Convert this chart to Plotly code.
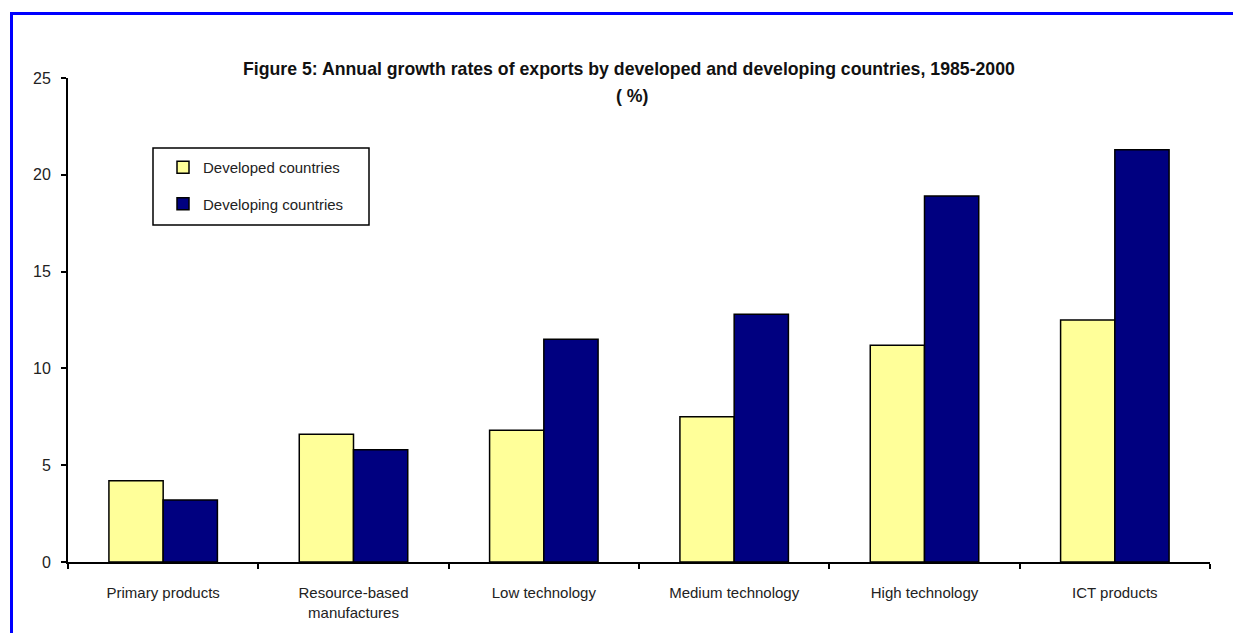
import plotly.graph_objects as go

# Export growth by product category, 1985-2000 (% per year)
categories = [
    "Primary products",
    "Resource-based<br>manufactures",
    "Low technology",
    "Medium technology",
    "High technology",
    "ICT products",
]
developed = [4.2, 6.6, 6.8, 7.5, 11.2, 12.5]
developing = [3.2, 5.8, 11.5, 12.8, 18.9, 21.3]
y_ticks = [0, 5, 10, 15, 20, 25]

FONT = "Liberation Sans Narrow, Arial Narrow, Liberation Sans, Arial, sans-serif"

W, H = 1233, 633
ML, MR, MT, MB = 68, 23, 78, 71
PW, PH = W - ML - MR, H - MT - MB


def px_x(px):
    return (px - ML) / PW


def px_y(py):
    return (H - MB - py) / PH


fig = go.Figure()
fig.add_trace(go.Bar(
    x=categories, y=developed, name="Developed countries",
    marker=dict(color="#FFFF99", line=dict(color="#000000", width=1.5)),
    legendgroup="a",
))
fig.add_trace(go.Bar(
    x=categories, y=developing, name="Developing countries",
    marker=dict(color="#000080", line=dict(color="#000000", width=1.5)),
    legendgroup="b",
))

fig.update_layout(
    width=W, height=H, autosize=False,
    margin=dict(l=ML, r=MR, t=MT, b=MB, pad=0),
    paper_bgcolor="white", plot_bgcolor="white",
    font=dict(family=FONT, size=15, color="#222222"),
    barmode="group", bargap=0.43, bargroupgap=0,
    showlegend=True,
    legend=dict(
        x=px_x(163), y=px_y(151), xanchor="left", yanchor="top",
        bgcolor="rgba(0,0,0,0)", borderwidth=0,
        font=dict(family=FONT, size=15, color="#222222"),
        traceorder="grouped", tracegroupgap=14,
        itemclick=False, itemdoubleclick=False,
    ),
    xaxis=dict(
        type="category", tickson="boundaries",
        showline=True, linecolor="#000000", linewidth=2,
        ticks="outside", ticklen=5, tickwidth=1.5, tickcolor="#000000",
        showgrid=False, zeroline=False, ticklabelstandoff=16,
        tickfont=dict(family=FONT, size=15, color="#222222"),
    ),
    yaxis=dict(
        range=[0, 25], tickvals=y_ticks, ticktext=[str(v) for v in y_ticks],
        showline=True, linecolor="#000000", linewidth=2,
        ticks="outside", ticklen=5, tickwidth=1.5, tickcolor="#000000",
        showgrid=False, zeroline=False, ticklabelstandoff=7,
        tickfont=dict(family=FONT, size=16, color="#222222"),
    ),
    annotations=[
        dict(
            text="<b>Figure 5: Annual growth rates of exports by developed and developing countries, 1985-2000</b>",
            xref="paper", yref="paper", x=px_x(629), y=px_y(69),
            xanchor="center", yanchor="middle", showarrow=False,
            font=dict(family=FONT, size=17.7, color="#111111"),
        ),
        dict(
            text="<b>( %)</b>",
            xref="paper", yref="paper", x=px_x(632), y=px_y(96),
            xanchor="center", yanchor="middle", showarrow=False,
            font=dict(family=FONT, size=17.7, color="#111111"),
        ),
    ],
    shapes=[
        # outer frame
        dict(
            type="rect", xref="paper", yref="paper",
            x0=px_x(11.5), y0=px_y(H + 40), x1=px_x(W + 40), y1=px_y(13.5),
            line=dict(color="#0000FF", width=3), fillcolor="rgba(0,0,0,0)",
            layer="below",
        ),
        # legend box
        dict(
            type="rect", xref="paper", yref="paper",
            x0=px_x(153), y0=px_y(225), x1=px_x(369), y1=px_y(148),
            line=dict(color="#000000", width=1.5), fillcolor="white",
            layer="above",
        ),
    ],
)

fig.write_html("out.html")
